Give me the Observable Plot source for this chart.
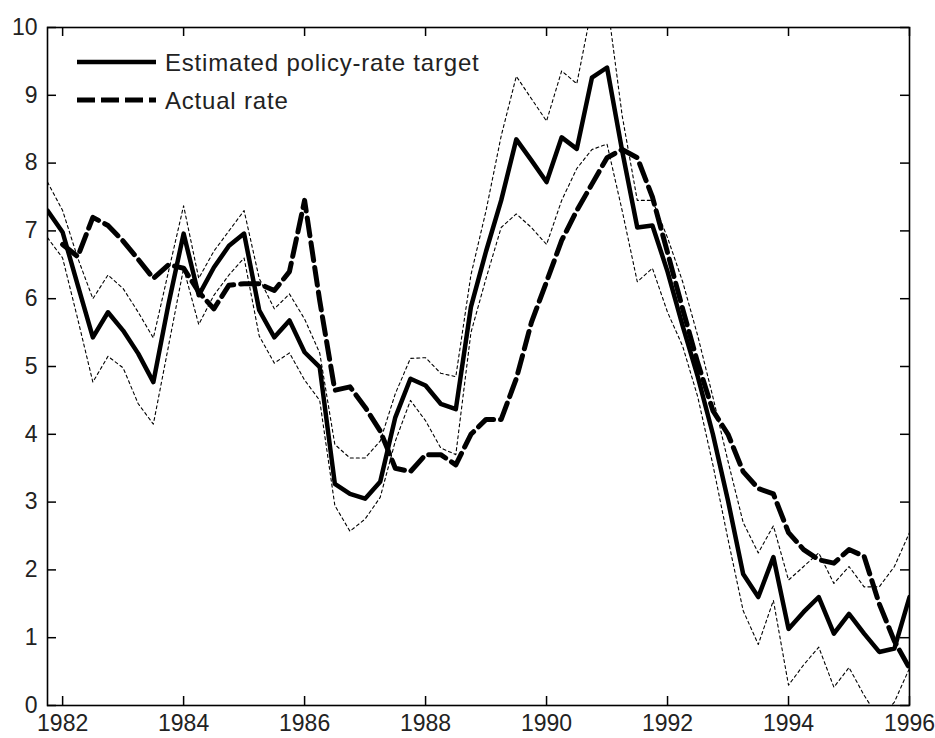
<!DOCTYPE html>
<html><head><meta charset="utf-8">
<script src="https://cdn.jsdelivr.net/npm/d3@7"></script>
<script src="https://cdn.jsdelivr.net/npm/@observablehq/plot@0.6"></script>
<style>
body{margin:0;background:#fff;}
#wrap{position:relative;width:935px;height:738px;}
#legend{position:absolute;left:0;top:0;pointer-events:none;}
</style></head><body><div id="wrap"></div>
<script>
// Quarterly dates (decimal years)
const quarters = [1981.75,1982.00,1982.25,1982.50,1982.75,1983.00,1983.25,1983.50,1983.75,1984.00,
  1984.25,1984.50,1984.75,1985.00,1985.25,1985.50,1985.75,1986.00,1986.25,1986.50,
  1986.75,1987.00,1987.25,1987.50,1987.75,1988.00,1988.25,1988.50,1988.75,1989.00,
  1989.25,1989.50,1989.75,1990.00,1990.25,1990.50,1990.75,1991.00,1991.25,1991.50,
  1991.75,1992.00,1992.25,1992.50,1992.75,1993.00,1993.25,1993.50,1993.75,1994.00,
  1994.25,1994.50,1994.75,1995.00,1995.25,1995.50,1995.75,1996.00];
// Estimated policy-rate target
const estimated = [7.30,6.98,6.20,5.43,5.80,5.53,5.19,4.77,5.92,6.96,
  6.05,6.46,6.78,6.96,5.83,5.43,5.68,5.21,4.99,3.27,
  3.12,3.05,3.30,4.25,4.82,4.72,4.45,4.37,5.88,6.70,
  7.45,8.35,8.04,7.72,8.38,8.21,9.26,9.41,8.18,7.05,
  7.08,6.40,5.60,4.85,4.00,3.02,1.94,1.60,2.19,1.13,
  1.38,1.60,1.06,1.35,1.06,0.79,0.84,1.60];
// Upper confidence band
const upperBand = [7.72,7.30,6.60,6.00,6.35,6.15,5.80,5.42,6.40,7.37,
  6.30,6.70,7.00,7.30,6.30,5.85,6.07,5.70,5.20,3.85,
  3.65,3.65,3.90,4.60,5.12,5.13,4.90,4.85,6.35,7.30,
  8.40,9.28,8.95,8.62,9.36,9.17,10.30,10.40,8.70,7.45,
  7.45,6.90,6.25,5.45,4.55,3.60,2.70,2.25,2.65,1.85,
  2.05,2.25,1.80,2.05,1.75,1.75,2.05,2.55];
// Lower confidence band
const lowerBand = [6.90,6.60,5.70,4.77,5.15,4.98,4.45,4.15,5.30,6.45,
  5.62,6.05,6.35,6.60,5.45,5.05,5.20,4.80,4.50,2.95,
  2.57,2.75,3.07,3.90,4.50,4.20,3.80,3.70,5.50,6.30,
  7.05,7.25,7.05,6.80,7.45,7.92,8.20,8.28,7.30,6.25,
  6.45,5.80,5.30,4.55,3.55,2.45,1.40,0.90,1.55,0.30,
  0.60,0.86,0.27,0.56,0.15,-0.20,0.05,0.55];
// Actual rate
const actual = [null,6.80,6.62,7.20,7.08,6.85,6.58,6.30,6.50,6.45,
  6.10,5.85,6.20,6.22,6.22,6.12,6.40,7.45,5.97,4.65,
  4.70,4.40,4.05,3.50,3.45,3.70,3.70,3.55,4.00,4.22,
  4.22,4.82,5.65,6.25,6.86,7.30,7.69,8.08,8.20,8.08,
  7.50,6.68,5.85,5.05,4.35,4.00,3.45,3.20,3.12,2.55,
  2.30,2.15,2.10,2.30,2.20,1.50,0.95,0.55];

const xTicks = [1982,1984,1986,1988,1990,1992,1994,1996];
const yTicks = [0,1,2,3,4,5,6,7,8,9,10];
const legendLabels = ["Estimated policy-rate target","Actual rate"];

const rows = quarters.map((t,i)=>({t, est: estimated[i], up: upperBand[i], lo: lowerBand[i], act: actual[i]}));

const W = 935, H = 738, mL = 47, mR = 26, mT = 27, mB = 33;
const innerW = W - mL - mR, innerH = H - mT - mB, tk = 9;

const chart = Plot.plot({
  width: W, height: H,
  marginLeft: mL, marginRight: mR, marginTop: mT, marginBottom: mB,
  style: {fontFamily: "'Liberation Sans', Arial, sans-serif", fontSize: "23px", color: "#222", background: "#fff"},
  x: {domain: [1981.75, 1996], label: null},
  y: {domain: [0, 10], label: null},
  marks: [
    Plot.line(rows, {x: "t", y: "up", stroke: "#000", strokeWidth: 1.1, strokeDasharray: "3,3", clip: true}),
    Plot.line(rows, {x: "t", y: "lo", stroke: "#000", strokeWidth: 1.1, strokeDasharray: "3,3", clip: true}),
    Plot.line(rows.filter(d => d.act != null), {x: "t", y: "act", stroke: "#000", strokeWidth: 5, strokeDasharray: "18,7", clip: true}),
    Plot.line(rows, {x: "t", y: "est", stroke: "#000", strokeWidth: 4.5, clip: true}),
    Plot.tickY(yTicks, {y: d => d, stroke: "#000", strokeWidth: 1.5, insetRight: innerW - tk}),
    Plot.tickY(yTicks, {y: d => d, stroke: "#000", strokeWidth: 1.5, insetLeft: innerW - tk}),
    Plot.tickX(xTicks, {x: d => d, stroke: "#000", strokeWidth: 1.5, insetTop: innerH - tk}),
    Plot.tickX(xTicks, {x: d => d, stroke: "#000", strokeWidth: 1.5, insetBottom: innerH - tk}),
    Plot.axisY(yTicks, {tickSize: 0, tickPadding: 10, tickFormat: d => String(d), fontSize: 23, label: null}),
    Plot.axisX(xTicks, {tickSize: 0, tickPadding: 9, tickFormat: d => String(d), fontSize: 23, label: null}),
    Plot.frame({stroke: "#000", strokeWidth: 1.6})
  ]
});

const wrap = document.getElementById("wrap");
wrap.appendChild(chart);

// Legend overlay (inside plot, top-left)
const ns = "http://www.w3.org/2000/svg";
const lg = document.createElementNS(ns, "svg");
lg.setAttribute("id", "legend");
lg.setAttribute("width", 520); lg.setAttribute("height", 130);
const items = [
  {label: legendLabels[0], dash: null, y: 62},
  {label: legendLabels[1], dash: "18,6", y: 100}
];
items.forEach(it => {
  const ln = document.createElementNS(ns, "line");
  ln.setAttribute("x1", 77); ln.setAttribute("x2", 156);
  ln.setAttribute("y1", it.y); ln.setAttribute("y2", it.y);
  ln.setAttribute("stroke", "#000");
  ln.setAttribute("stroke-width", it.dash ? 5 : 4.5);
  if (it.dash) ln.setAttribute("stroke-dasharray", it.dash);
  lg.appendChild(ln);
  const tx = document.createElementNS(ns, "text");
  tx.setAttribute("x", 165); tx.setAttribute("y", it.y + 9);
  tx.setAttribute("font-family", "'Liberation Sans', Arial, sans-serif");
  tx.setAttribute("font-size", 24);
  tx.setAttribute("letter-spacing", "0.8");
  tx.setAttribute("fill", "#222");
  tx.textContent = it.label;
  lg.appendChild(tx);
});
wrap.appendChild(lg);
</script>
</body></html>
